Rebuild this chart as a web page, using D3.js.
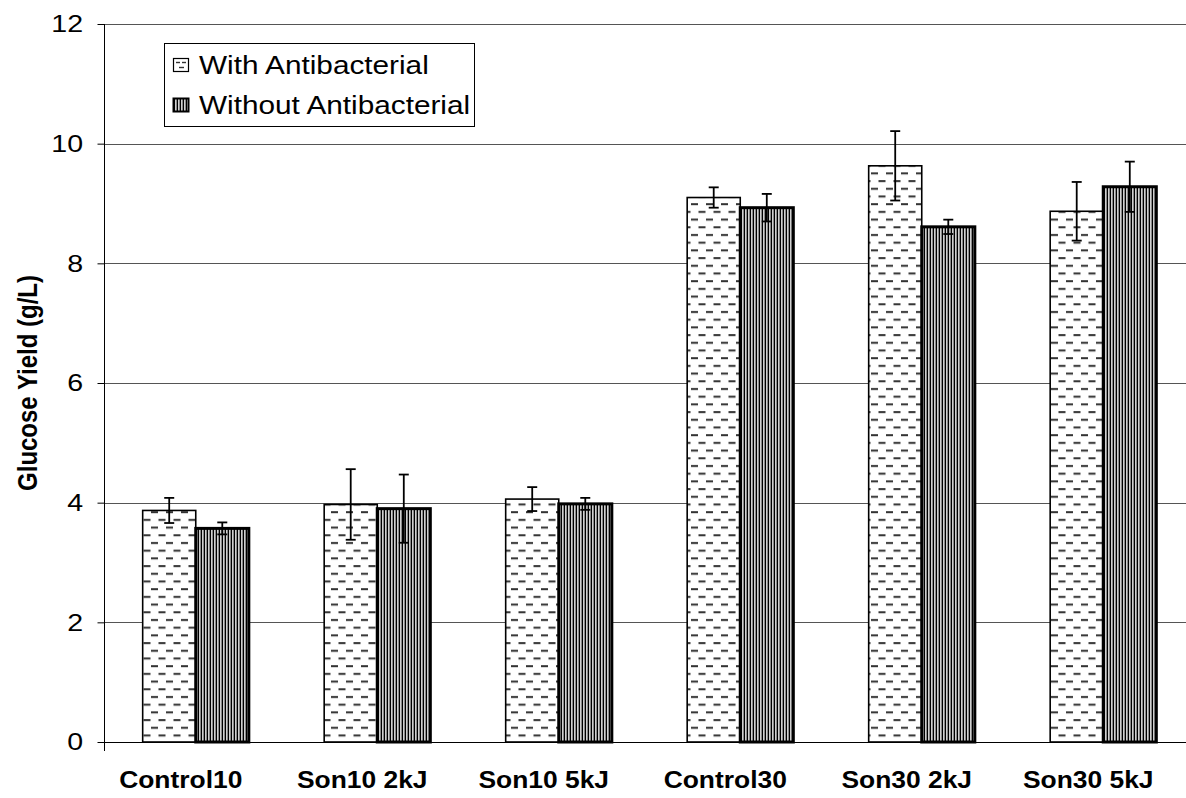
<!DOCTYPE html>
<html>
<head>
<meta charset="utf-8">
<script src="https://cdn.jsdelivr.net/npm/d3@7"></script>
<style>
  html, body { margin: 0; padding: 0; background: #fff; }
  svg { display: block; font-family: "Liberation Sans", Arial, sans-serif; }
</style>
</head>
<body>
<svg id="chart" width="1186" height="798"></svg>
<script>
// Glucose yield per treatment, with and without antibacterial agent
const categories = ["Control10", "Son10 2kJ", "Son10 5kJ", "Control30", "Son30 2kJ", "Son30 5kJ"];
const seriesNames = ["With Antibacterial", "Without Antibacterial"];
const withValues = [3.87, 3.97, 4.06, 9.10, 9.63, 8.87];
const withErrors = [0.21, 0.59, 0.20, 0.17, 0.58, 0.49];
const withoutValues = [3.57, 3.90, 3.98, 8.93, 8.61, 9.28];
const withoutErrors = [0.10, 0.57, 0.10, 0.23, 0.12, 0.42];
const yTicks = [0, 2, 4, 6, 8, 10, 12];
const yTitle = "Glucose Yield (g/L)";

const FONT = "'Liberation Sans', Arial, sans-serif";
const STRETCH = 1.19; // text is drawn slightly wide, as in the exported figure

const svg = d3.select("#chart");
const W = 1186;

const x = d3.scaleBand().domain(categories).range([105, 1194]).paddingInner(0).paddingOuter(0);
const sub = d3.scaleBand().domain(seriesNames).range([0, x.bandwidth()]).paddingInner(0).paddingOuter(0.71);
const y = d3.scaleLinear().domain([0, 12]).range([742, 24]);

// Fill patterns
const defs = svg.append("defs");
const dash = defs.append("pattern").attr("id", "dashes").attr("patternUnits", "userSpaceOnUse")
  .attr("width", 15).attr("height", 15.4).attr("x", 0).attr("y", 0);
dash.append("rect").attr("width", 15).attr("height", 15.4).attr("fill", "#fff");
dash.append("rect").attr("x", 1).attr("y", 3).attr("width", 7).attr("height", 2).attr("fill", "#333");
dash.append("rect").attr("x", 8.5).attr("y", 10.7).attr("width", 7).attr("height", 2).attr("fill", "#333");
dash.append("rect").attr("x", -6.5).attr("y", 10.7).attr("width", 7).attr("height", 2).attr("fill", "#333");

const vert = defs.append("pattern").attr("id", "vlines").attr("patternUnits", "userSpaceOnUse")
  .attr("width", 3).attr("height", 10);
vert.append("rect").attr("width", 3).attr("height", 10).attr("fill", "#8a8a8a");
vert.append("rect").attr("x", 0).attr("width", 1).attr("height", 10).attr("fill", "#000");
vert.append("rect").attr("x", 1).attr("width", 1).attr("height", 10).attr("fill", "#d0d0d0");

// Gridlines
svg.append("g").selectAll("line").data(yTicks.filter(d => d > 0)).join("line")
  .attr("x1", 104).attr("x2", W)
  .attr("y1", d => Math.round(y(d)) + 0.5).attr("y2", d => Math.round(y(d)) + 0.5)
  .attr("stroke", "#555").attr("stroke-width", 1);

// Bars
const series = [
  { name: seriesNames[0], values: withValues, errors: withErrors, fill: "url(#dashes)", sw: 1.6 },
  { name: seriesNames[1], values: withoutValues, errors: withoutErrors, fill: "url(#vlines)", sw: 3 }
];

series.forEach(s => {
  svg.append("g").selectAll("rect").data(categories).join("rect")
    .attr("x", c => x(c) + sub(s.name))
    .attr("y", (c, i) => y(s.values[i]))
    .attr("width", sub.bandwidth())
    .attr("height", (c, i) => y(0) - y(s.values[i]))
    .attr("fill", s.fill)
    .attr("stroke", "#000").attr("stroke-width", s.sw);
});

// Error bars
series.forEach(s => {
  const g = svg.append("g").attr("stroke", "#000").attr("stroke-width", 1.8);
  categories.forEach((c, i) => {
    const cx = x(c) + sub(s.name) + sub.bandwidth() / 2;
    const hi = y(s.values[i] + s.errors[i]);
    const lo = y(s.values[i] - s.errors[i]);
    g.append("line").attr("x1", cx).attr("x2", cx).attr("y1", hi).attr("y2", lo);
    g.append("line").attr("x1", cx - 5).attr("x2", cx + 5).attr("y1", hi).attr("y2", hi);
    g.append("line").attr("x1", cx - 5).attr("x2", cx + 5).attr("y1", lo).attr("y2", lo);
  });
});

// Zero baseline
svg.append("line").attr("x1", 98).attr("x2", W).attr("y1", 742.5).attr("y2", 742.5)
  .attr("stroke", "#000").attr("stroke-width", 1.2);

// Y axis
const yAxis = d3.axisLeft(y).tickValues(yTicks).tickSize(7).tickPadding(11).tickFormat(d3.format("d"));
const ya = svg.append("g").attr("transform", "translate(104.5,0)").call(yAxis);
ya.select(".domain").remove();
ya.selectAll(".tick line").attr("stroke", "#000");
ya.selectAll(".tick text").attr("font-size", 24).attr("fill", "#000")
  .attr("font-family", FONT).attr("transform", `scale(${STRETCH},1)`);
svg.append("line").attr("x1", 104.5).attr("x2", 104.5).attr("y1", 24).attr("y2", 751)
  .attr("stroke", "#000").attr("stroke-width", 1);

// Category labels (set slightly left of the bar groups)
const xAxis = d3.axisBottom(x).tickSize(0).tickPadding(0);
const xa = svg.append("g").attr("transform", "translate(-15,788)").call(xAxis);
xa.select(".domain").remove();
xa.selectAll(".tick text").attr("font-size", 24).attr("font-weight", "bold").attr("fill", "#000")
  .attr("font-family", FONT).attr("y", 0).attr("dy", 0)
  .attr("transform", "scale(1.1,1)");

// Y title
svg.append("text").attr("transform", `translate(37,383) rotate(-90) scale(1,${STRETCH})`)
  .attr("text-anchor", "middle").attr("font-size", 24).attr("font-weight", "bold")
  .attr("font-family", FONT).text(yTitle);

// Legend
const lg = svg.append("g");
lg.append("rect").attr("x", 164.5).attr("y", 43.5).attr("width", 310).attr("height", 83)
  .attr("fill", "#fff").attr("stroke", "#000").attr("stroke-width", 1);
seriesNames.forEach((n, i) => {
  const cy = 65 + i * 40;
  lg.append("rect").attr("x", 173.5).attr("y", cy - 6.5).attr("width", 15).attr("height", 13)
    .attr("stroke", "#000").attr("stroke-width", i === 0 ? 1.2 : 2)
    .attr("fill", i === 0 ? "#fff" : "url(#vlines)");
  if (i === 0) {
    const ls = lg.append("g").attr("stroke", "#333").attr("stroke-width", 1.4);
    ls.append("line").attr("x1", 176).attr("x2", 180).attr("y1", cy - 2.5).attr("y2", cy - 2.5);
    ls.append("line").attr("x1", 182).attr("x2", 186).attr("y1", cy - 2.5).attr("y2", cy - 2.5);
    ls.append("line").attr("x1", 179).attr("x2", 184).attr("y1", cy + 2.5).attr("y2", cy + 2.5);
  }
  lg.append("text").attr("transform", `translate(199,${cy + 8.5}) scale(${STRETCH},1)`)
    .attr("font-size", 25).attr("fill", "#000").attr("font-family", FONT).text(n);
});
</script>
</body>
</html>
